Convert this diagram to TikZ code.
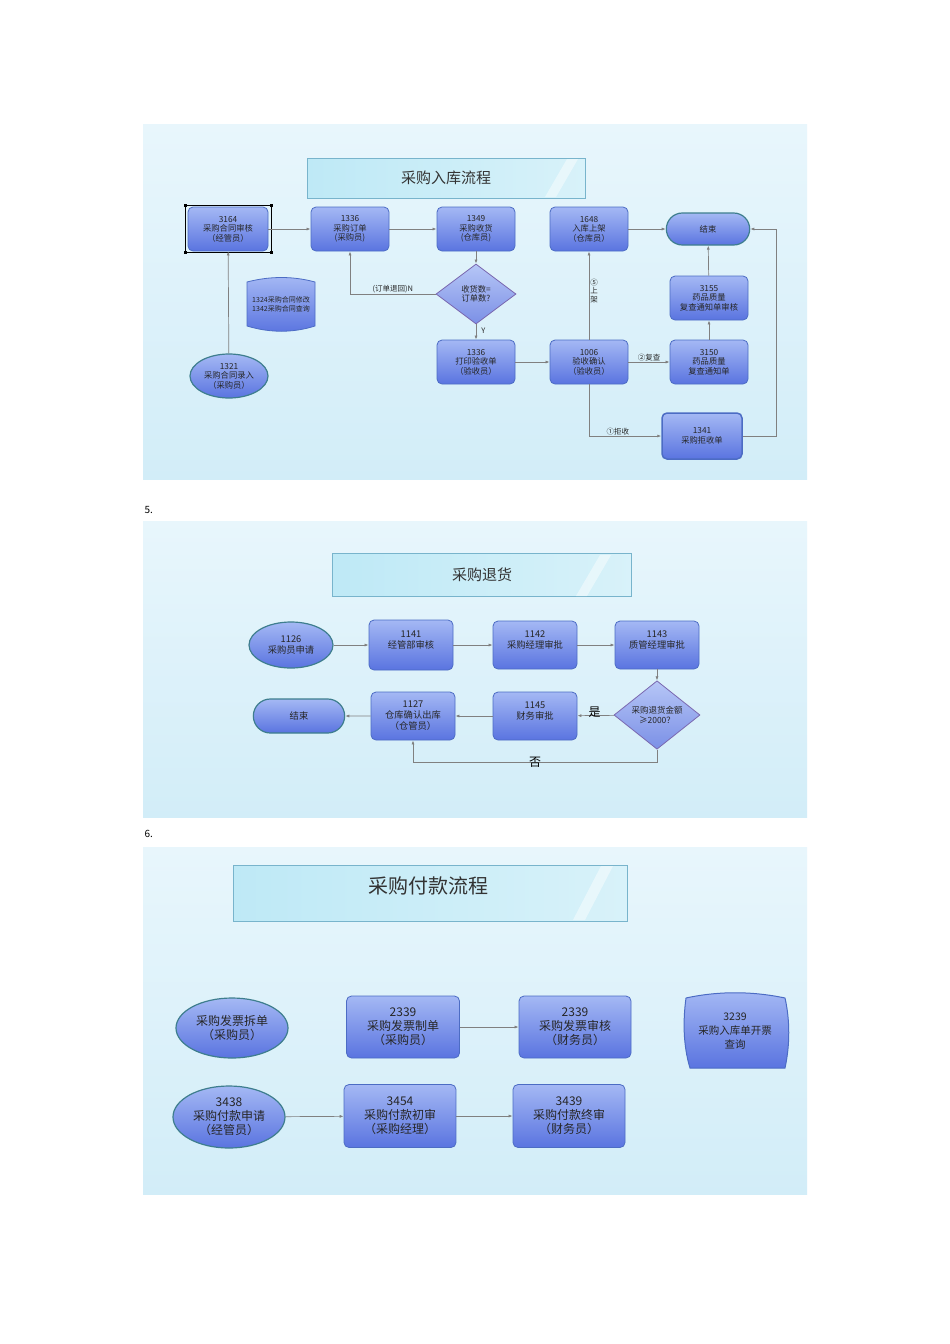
\documentclass[tikz,border=0pt]{standalone}
\usepackage{fontspec}
\setmainfont{Noto Sans CJK SC}
\usetikzlibrary{shapes.geometric,shapes.misc,arrows.meta}
\definecolor{bgA}{HTML}{E8F6FC}
\definecolor{bgB}{HTML}{D2EDF8}
\definecolor{nTop}{HTML}{A4B8F4}
\definecolor{nBot}{HTML}{5A74E0}
\definecolor{nBd}{HTML}{4C6CC4}
\definecolor{eBd}{HTML}{3E7E8E}
\definecolor{dBd}{HTML}{7A68B0}
\definecolor{tFill}{HTML}{BEE9F6}
\definecolor{tBd}{HTML}{78B4CC}
\definecolor{ln}{HTML}{808080}
\tikzset{
 ttl/.style={draw=tBd,left color=tFill,right color=tFill!60!white,inner sep=0pt,text=black!80},
 nbox/.style={draw=nBd,rounded corners=5pt,top color=nTop,bottom color=nBot,inner sep=1pt,align=center,text=black!85,line width=0.8pt},
 nell/.style={ellipse,draw=eBd,top color=nTop,bottom color=nBot,inner sep=0pt,align=center,text=black!85,line width=1.2pt},
 npill/.style={rounded rectangle,draw=eBd,top color=nTop,bottom color=nBot,align=center,text=black!85,line width=1.2pt},
 ndia/.style={diamond,draw=dBd,top color=nTop!80!white,bottom color=nBot!80!white,inner sep=0pt,align=center,text=black!85,line width=0.8pt},
 con/.style={draw=ln,line width=0.7pt,-{Latex[length=4pt,width=3pt]}},
 lab/.style={font=\fontsize{7.5}{8.5}\selectfont,text=black!85,inner sep=1pt},
 s1/.style={font=\fontsize{8.3}{9.5}\selectfont},
 s2/.style={font=\fontsize{9.3}{11}\selectfont},
 s3/.style={font=\fontsize{12}{14}\selectfont},
 stripe/.style={fill=white,opacity=0.45},
}
\begin{document}
\begin{tikzpicture}[x=1pt,y=-1pt]
\useasboundingbox (0,0) rectangle (950,1344);
\fill[white] (0,0) rectangle (950,1344);
% ---------- panel 1
\shade[top color=bgA,bottom color=bgB] (143,124) rectangle (807,479);
\node[ttl,minimum width=278pt,minimum height=40pt,font=\fontsize{15}{17}\selectfont] (t1) at (446,178) {采购入库流程};
\fill[stripe] (545,197) -- (567,159) -- (578,159) -- (556,197) -- cycle;
\node[nbox,s1,minimum width=80pt,minimum height=44pt] (a3164) at (228,229) {3164\\采购合同审核\\（经管员）};
\draw[black,line width=0.5pt] (185,205) rectangle (271,252);
\foreach \p in {(185,205),(271,205),(185,252),(271,252)} \fill[black] \p ++(-1.5,-1.5) rectangle ++(3,3);
\node[nbox,s1,minimum width=78pt,minimum height=44pt] (a1336) at (350,229) {1336\\采购订单\\(采购员)};
\node[nbox,s1,minimum width=78pt,minimum height=44pt] (a1349) at (476,229) {1349\\采购收货\\(仓库员)};
\node[nbox,s1,minimum width=78pt,minimum height=44pt] (a1648) at (589,229) {1648\\入库上架\\（仓库员）};
\node[npill,s1,minimum width=90pt,minimum height=32pt] (aend) at (708,229) {结束};
\node[ndia,s1,minimum width=80pt,minimum height=60pt] (adia) at (476,294) {收货数=\\订单数?};
\node[nbox,s1,minimum width=78pt,minimum height=44pt] (a1336b) at (476,362) {1336\\打印验收单\\（验收员）};
\node[nbox,s1,minimum width=78pt,minimum height=44pt] (a1006) at (589,362) {1006\\验收确认\\（验收员）};
\node[nbox,s1,minimum width=78pt,minimum height=44pt] (a3150) at (709,362) {3150\\药品质量\\复查通知单};
\node[nbox,s1,minimum width=78pt,minimum height=44pt] (a3155) at (709,298) {3155\\药品质量\\复查通知单审核};
\node[nbox,s1,minimum width=80pt,minimum height=46pt,line width=1.5pt] (a1341) at (702,436) {1341\\采购拒收单};
\node[nell,s1,minimum width=78pt,minimum height=44pt] (a1321) at (229,376) {1321\\采购合同录入\\（采购员）};
\shade[top color=nTop,bottom color=nBot,draw=nBd,line width=0.8pt]
 (247,282) .. controls (270,276) and (293,276) .. (315,282) -- (315,326) .. controls (293,333) and (270,333) .. (247,326) -- cycle;
\node[font=\fontsize{7}{9}\selectfont,align=center,text=black!85] (adoc) at (281,304) {1324采购合同修改\\1342采购合同查询};
\draw[con] (a3164) -- (a1336);
\draw[con] (a1336) -- (a1349);
\draw[con] (a1349) -- (adia);
\draw[con] (adia.west) -| node[lab,pos=0.25,above]{(订单退回)N} (a1336.south);
\draw[con] (adia) -- node[lab,pos=0.4,right=4pt]{Y} (a1336b);
\draw[con] (a1336b) -- (a1006);
\draw[con] (a1006) -- node[lab,right,align=center,pos=0.55]{⑤\\上\\架} (a1648);
\draw[con] (a1648) -- (aend);
\draw[con] (a1006) -- node[lab,above,pos=0.5]{②复查} (a3150);
\draw[con] (a3150) -- (a3155);
\draw[con] (a3155) -- (aend);
\draw[con] (a1006.south) |- node[lab,above,pos=0.7]{①拒收} (a1341.west);
\draw[con] (a1341.east) -- (776,436) |- (aend.east);
\draw[con] (a1321) -- (a3164);
% ---------- 5.
\node[anchor=west,font=\fontsize{10}{12}\selectfont] (l5) at (141,510) {5.};
\shade[top color=bgA,bottom color=bgB] (143,521) rectangle (807,817);
\node[ttl,minimum width=299pt,minimum height=43pt,font=\fontsize{15}{17}\selectfont] (t2) at (482,575) {采购退货};
\fill[stripe] (576,596) -- (600,555) -- (611,555) -- (587,596) -- cycle;
\node[nell,s2,minimum width=84pt,minimum height=46pt] (b1126) at (291,645) {1126\\采购员申请};
\node[nbox,s2,minimum width=84pt,minimum height=50pt] (b1141) at (411,645) {1141\\经管部审核\\~};
\node[nbox,s2,minimum width=84pt,minimum height=48pt] (b1142) at (535,645) {1142\\采购经理审批\\~};
\node[nbox,s2,minimum width=84pt,minimum height=48pt] (b1143) at (657,645) {1143\\质管经理审批\\~};
\node[ndia,s2,minimum width=86pt,minimum height=52pt,font=\fontsize{8.5}{10}\selectfont] (bdia) at (657,715) {采购退货金额\\≥2000？};
\node[nbox,s2,minimum width=84pt,minimum height=48pt] (b1145) at (535,716) {1145\\财务审批\\~};
\node[nbox,s2,minimum width=84pt,minimum height=48pt] (b1127) at (413,716) {1127\\仓库确认出库\\（仓管员）};
\node[npill,s2,minimum width=98pt,minimum height=34pt] (bend) at (299,716) {结束};
\draw[con] (b1126) -- (b1141);
\draw[con] (b1141) -- (b1142);
\draw[con] (b1142) -- (b1143);
\draw[con] (b1143) -- (bdia);
\draw[con] (bdia) -- node[above,pos=0.5,font=\fontsize{12}{13}\selectfont,yshift=-6pt,xshift=-1pt]{是} (b1145);
\draw[con] (b1145) -- (b1127);
\draw[con] (b1127) -- (bend);
\draw[con] (bdia.south) -- (657,762) -- node[font=\fontsize{12}{13}\selectfont]{否} (413,762) -- (b1127.south);
% ---------- 6.
\node[anchor=west,font=\fontsize{10}{12}\selectfont] (l6) at (141,834) {6.};
\shade[top color=bgA,bottom color=bgB] (143,847) rectangle (807,1194);
\node[ttl,minimum width=394pt,minimum height=56pt] (t3) at (430,893) {};
\node[font=\fontsize{20}{22}\selectfont,text=black!80] (t3t) at (428,886) {采购付款流程};
\fill[stripe] (573,920) -- (601,866) -- (613,866) -- (585,920) -- cycle;
\node[nell,s3,minimum width=112pt,minimum height=60pt] (c1) at (232,1028) {采购发票拆单\\（采购员）};
\node[nbox,s3,minimum width=113pt,minimum height=62pt] (c2339a) at (403,1027) {2339\\采购发票制单\\（采购员）};
\node[nbox,s3,minimum width=112pt,minimum height=62pt] (c2339b) at (575,1027) {2339\\采购发票审核\\（财务员）};
\shade[top color=nTop,bottom color=nBot,draw=nBd,line width=1pt]
 (686,998) .. controls (718,991) and (752,991) .. (785,998) .. controls (790,1020) and (790,1045) .. (785,1068) -- (690,1068) .. controls (683,1045) and (683,1020) .. (686,998) -- cycle;
\node[align=center,text=black!85,font=\fontsize{10.5}{14}\selectfont] (c3239) at (735,1031) {3239\\采购入库单开票\\查询};
\node[nell,s3,minimum width=112pt,minimum height=62pt] (c3438) at (229,1117) {3438\\采购付款申请\\（经管员）};
\node[nbox,s3,minimum width=112pt,minimum height=63pt] (c3454) at (400,1116) {3454\\采购付款初审\\（采购经理）};
\node[nbox,s3,minimum width=112pt,minimum height=63pt] (c3439) at (569,1116) {3439\\采购付款终审\\（财务员）};
\draw[con] (c2339a) -- (c2339b);
\draw[con] (c3438) -- (c3454);
\draw[con] (c3454) -- (c3439);
\end{tikzpicture}
\end{document}
